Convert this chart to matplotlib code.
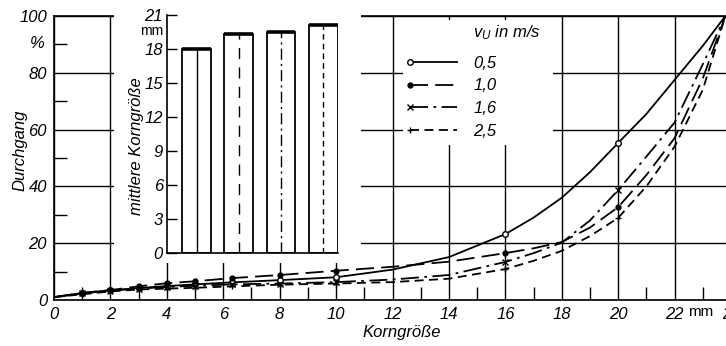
import matplotlib
matplotlib.use("Agg")
import matplotlib.pyplot as plt
from matplotlib.legend_handler import HandlerLine2D
from matplotlib.lines import Line2D
from matplotlib.patches import Rectangle
from matplotlib.ticker import MultipleLocator

# Siebdurchgang ueber Korngroesse fuer vier Umfangsgeschwindigkeiten
grain = [0, 1, 2, 3, 4, 5, 6.3, 8, 10, 12, 14, 16, 17, 18, 19, 20, 21, 22, 23, 23.8]
v05 = [1, 2.5, 3.4, 4.2, 4.9, 5.5, 6.2, 7.0, 8.0, 10.7, 15.1, 23.2, 29.0, 36.0, 45.0, 55.3, 65.5, 77.5, 89.5, 100]
v10 = [1, 2.5, 3.5, 4.8, 5.9, 6.6, 7.7, 8.8, 10.3, 11.7, 13.5, 16.5, 18.2, 20.4, 25.5, 32.7, 44.0, 57.0, 78.0, 100]
v16 = [1, 2.3, 3.3, 4.0, 4.6, 5.0, 5.5, 5.8, 6.3, 7.2, 8.8, 13.4, 16.5, 20.2, 28.0, 38.7, 50.5, 62.5, 83.0, 100]
v25 = [1, 2.0, 3.0, 3.7, 4.0, 4.3, 4.8, 5.4, 5.8, 6.3, 7.5, 10.9, 13.8, 17.3, 22.5, 28.9, 40.0, 54.0, 74.0, 100]
marked = [1, 2, 3, 4, 5, 6, 7, 8, 11, 15]

speeds = ["0,5", "1,0", "1,6", "2,5"]
mean_size = [18.0, 19.35, 19.5, 20.1]

x_ticks = [0, 2, 4, 6, 8, 10, 12, 14, 16, 18, 20, 22, 24]
x_labels = ["0", "2", "4", "6", "8", "10", "12", "14", "16", "18", "20", "22", "24"]
y_ticks = [0, 20, 40, 60, 80, 100]
y_labels = ["0", "20", "40", "60", "80", "100"]
bar_ticks = [0, 3, 6, 9, 12, 15, 18, 21]

plt.rcParams["font.family"] = ["Liberation Sans", "DejaVu Sans"]
plt.rcParams["font.style"] = "italic"
plt.rcParams["font.size"] = 12
plt.rcParams["mathtext.fontset"] = "custom"
plt.rcParams["mathtext.it"] = "Liberation Sans:italic"
plt.rcParams["mathtext.rm"] = "Liberation Sans:italic"

W, H = 726, 346
fig = plt.figure(figsize=(W / 100, H / 100), dpi=100)


def px(x0, y0, x1, y1):
    # pixel box (top-left origin) -> figure fraction rect
    return [x0 / W, 1 - y1 / H, (x1 - x0) / W, (y1 - y0) / H]


class MarkerLeft(HandlerLine2D):
    # legend sample with the marker only at the left end of the line
    def create_artists(self, *args, **kwargs):
        arts = super().create_artists(*args, **kwargs)
        for a in arts:
            a.set_markevery([0])
        return arts


ax = fig.add_axes(px(54, 16, 731, 300))
ax.set_xlim(0, 24)
ax.set_ylim(0, 100)

styles = [
    dict(ls="-", marker="o", mfc="white", ms=4),
    dict(ls=(0, (10, 4)), marker="o", mfc="black", ms=3.5),
    dict(ls=(0, (10, 3, 1.5, 3)), marker="x", mfc="black", ms=4),
    dict(ls=(0, (5, 3)), marker="+", mfc="black", ms=5),
]
for ys, st in zip([v05, v10, v16, v25], styles):
    ax.plot(grain, ys, color="black", lw=1.3, mec="black", mew=1.0,
            markevery=marked, **st)

ax.set_xticks(x_ticks)
ax.set_xticklabels(x_labels)
ax.set_yticks(y_ticks)
ax.set_yticklabels(y_labels)
ax.xaxis.set_minor_locator(MultipleLocator(1))
ax.yaxis.set_minor_locator(MultipleLocator(10))
ax.tick_params(which="major", length=0, pad=5)
ax.tick_params(which="minor", direction="in", length=9.5, width=1.0, color="black")
ax.grid(True, which="major", color="black", lw=1.0)
for s in ax.spines.values():
    s.set_linewidth(1.2)
ax.spines["right"].set_visible(False)

# weisse Flaechen hinter Einsatzdiagramm und Legende
fig.add_artist(Rectangle((114 / W, 1 - 263 / H), 247 / W, 263 / H,
                         transform=fig.transFigure, facecolor="white",
                         edgecolor="none", zorder=1))
fig.add_artist(Rectangle((403 / W, 1 - 145 / H), 150 / W, 125 / H,
                         transform=fig.transFigure, facecolor="white",
                         edgecolor="none", zorder=1))

ins = fig.add_axes(px(167, 15, 338, 253))
ins.set_zorder(2)
ins.set_xlim(-0.70, 3.35)
ins.set_ylim(0, 21)
bx = list(range(len(mean_size)))
bw = 0.686
ins.bar(bx, mean_size, width=bw, fill=False, edgecolor="black", lw=1.3)
ins.hlines(mean_size, [b - bw / 2 for b in bx], [b + bw / 2 for b in bx],
           color="black", lw=2.6)
center_ls = ["-", (0, (8, 6)), (0, (8, 3, 1.5, 3)), (0, (4, 3))]
for b, h, ls in zip(bx, mean_size, center_ls):
    ins.vlines(b, 0, h, color="black", lw=1.0, linestyles=[ls])
ins.set_yticks(bar_ticks)
ins.set_xticks([])
ins.tick_params(axis="y", direction="in", length=7, width=1.0, pad=3)
ins.spines["top"].set_visible(False)
ins.spines["right"].set_visible(False)
ins.spines["left"].set_linewidth(1.2)
ins.spines["bottom"].set_linewidth(1.2)

handles = [Line2D([0, 1], [0, 0], color="black", lw=1.3, mec="black",
                  mew=1.0, **st) for st in styles]
fig.legend(handles, speeds, loc="upper left", bbox_to_anchor=(405 / W, 1 - 56 / H),
           frameon=False, numpoints=2, handlelength=3.4, handletextpad=0.7,
           labelspacing=0.45, borderpad=0, borderaxespad=0,
           handler_map={Line2D: MarkerLeft()})

fig.text(473 / W, 1 - 33 / H, r"$v_U$ in m/s", ha="left", va="center")
fig.text(20 / W, 1 - 150 / H, "Durchgang", rotation=90, ha="center", va="center")
fig.text(37 / W, 1 - 43 / H, "%", ha="center", va="center")
fig.text(137 / W, 1 - 146 / H, "mittlere Korngröße", rotation=90, ha="center", va="center")
fig.text(152 / W, 1 - 31 / H, "mm", ha="center", va="center", fontsize=10, style="normal")
fig.text(402 / W, 1 - 333 / H, "Korngröße", ha="center", va="center")
fig.text(688 / W, 1 - 312 / H, "mm", ha="left", va="center", fontsize=11, style="normal")

fig.savefig("out.png", dpi=100)
